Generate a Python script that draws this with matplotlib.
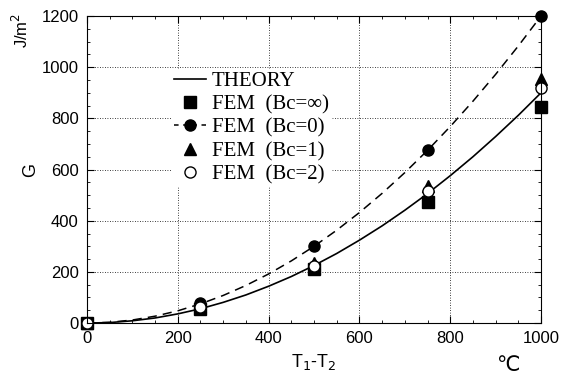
import numpy as np
import matplotlib.pyplot as plt

# temperature difference T1-T2 [C]
t_pts = [0, 250, 500, 750, 1000]
g_inf = [0, 55, 210, 475, 845]     # FEM Bc=inf
g_bc0 = [0, 78, 300, 675, 1200]    # FEM Bc=0
g_bc1 = [0, 65, 235, 535, 955]     # FEM Bc=1
g_bc2 = [0, 62, 225, 515, 920]     # FEM Bc=2

# curves
t_curve = [0, 50, 100, 150, 200, 250, 300, 350, 400, 450, 500,
           550, 600, 650, 700, 750, 800, 850, 900, 950, 1000]
g_theory = [0, 2, 9, 20, 36, 56, 81, 110, 144, 182, 225,
            272, 324, 380, 441, 506, 576, 650, 729, 812, 900]
g_dash = [0, 3, 12, 27, 48, 75, 108, 147, 192, 243, 300,
          363, 432, 507, 588, 675, 768, 867, 972, 1083, 1200]

plt.rcParams['font.family'] = ['Liberation Sans', 'DejaVu Sans']

fig = plt.figure(figsize=(5.63, 3.81), dpi=100)
ax = fig.add_axes([0.1545, 0.152, 0.8065, 0.806])

ax.plot(t_curve, g_theory, 'k-', lw=1.2, label='THEORY')
ax.plot(t_pts, g_inf, 'ks', ms=8, ls='none', label='FEM  (Bc=∞)', clip_on=False)
ax.plot(t_curve, g_dash, 'k--', lw=1.1, dashes=(6, 4))
ax.plot(t_pts, g_bc0, 'ko', ms=8, ls='none', clip_on=False)
# legend proxy for dashed + filled circle
ax.plot([], [], 'k--', marker='o', ms=8, lw=1.1, dashes=(3, 3), label='FEM  (Bc=0)')
ax.plot(t_pts, g_bc1, 'k^', ms=8, ls='none', label='FEM  (Bc=1)', clip_on=False)
ax.plot(t_pts, g_bc2, 'o', mfc='white', mec='k', ms=8, ls='none',
        label='FEM  (Bc=2)', clip_on=False)

ax.set_xlim(0, 1000)
ax.set_ylim(0, 1200)
ax.set_xticks([0, 200, 400, 600, 800, 1000])
ax.set_yticks([0, 200, 400, 600, 800, 1000, 1200])
ax.set_xticks(np.arange(0, 1001, 50), minor=True)
ax.set_yticks(np.arange(0, 1201, 50), minor=True)
ax.tick_params(which='both', direction='in', top=True, right=True, labelsize=12)
ax.tick_params(which='major', length=5, pad=6)
ax.tick_params(which='minor', length=2.5)
ax.grid(True, which='major', ls=(0, (1, 2)), color='k', lw=0.6)

ax.set_xlabel('T$_1$-T$_2$', fontsize=13, labelpad=4)
ax.set_ylabel('G', fontsize=13, labelpad=2)
fig.text(0.902, 0.027, '℃', fontsize=15, ha='center')
fig.text(0.02, 0.92, 'J/m$^2$', fontsize=12, rotation=90, ha='left', va='center')

leg = ax.legend(loc='upper left', bbox_to_anchor=(0.165, 0.86), frameon=True,
                fancybox=False, edgecolor='white', framealpha=1,
                prop={'family': 'Liberation Serif', 'size': 15},
                handlelength=1.5, handletextpad=0.3, labelspacing=0.18,
                borderpad=0.1)

fig.savefig('out.png', dpi=100)
